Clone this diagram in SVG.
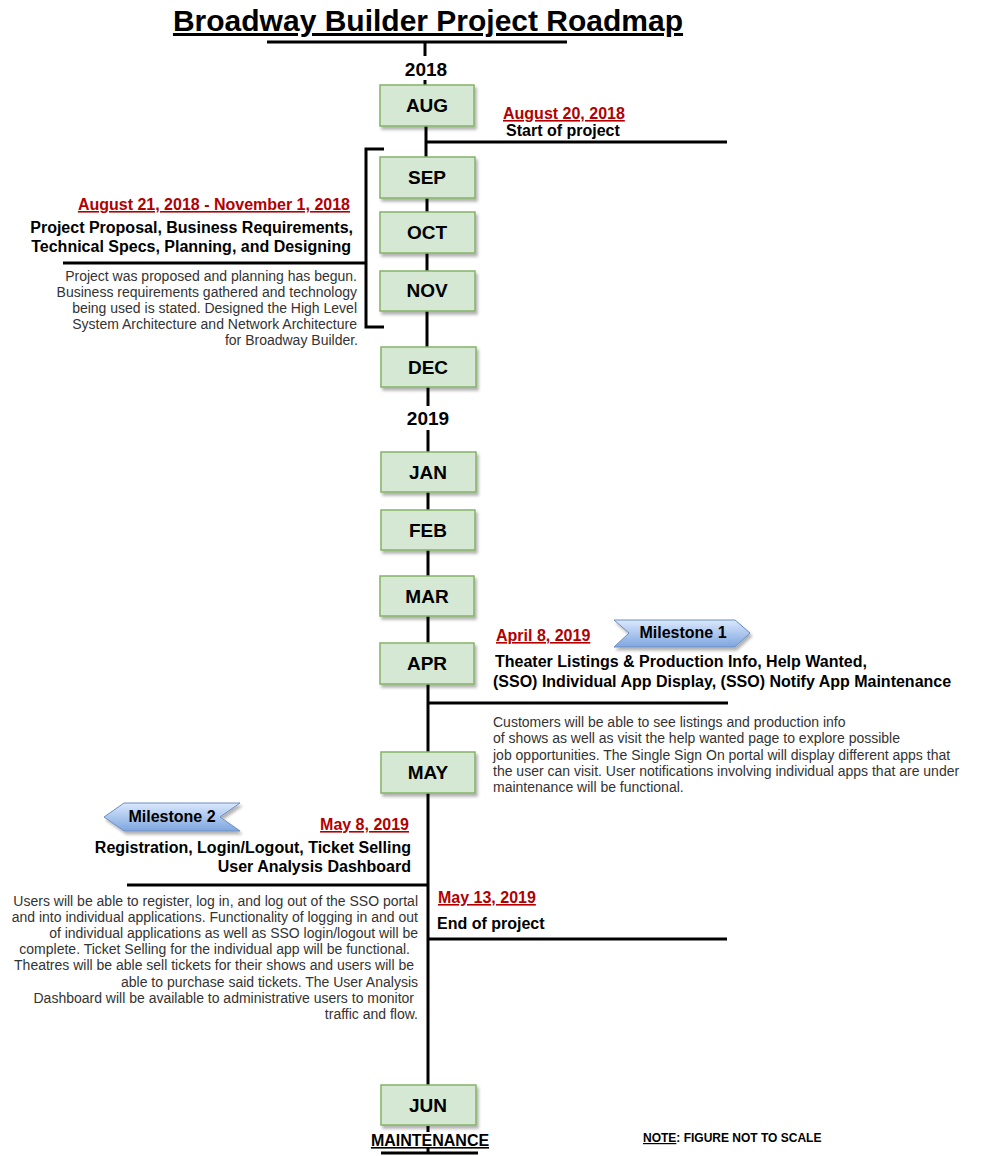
<svg xmlns="http://www.w3.org/2000/svg" width="981" height="1156" viewBox="0 0 981 1156">
<style>
text{font-family:"Liberation Sans",Arial,sans-serif;}
.b{font-weight:bold;}
.title{font-size:30px;font-weight:bold;text-decoration:underline;fill:#000;}
.yr{font-size:19px;font-weight:bold;fill:#000;text-anchor:middle;}
.mon{font-size:19px;font-weight:bold;fill:#000;text-anchor:middle;}
.box{fill:#d5e8d4;stroke:#82b366;stroke-width:1.5;filter:url(#sh);}
.date{font-size:16px;font-weight:bold;fill:#b20000;text-decoration:underline;}
.head{font-size:16px;font-weight:bold;fill:#000;}
.body{font-size:14px;fill:#333;}
.ln{stroke:#000;stroke-width:3;fill:none;}
.ms{fill:url(#bg);stroke:#6c8ebf;stroke-width:1;filter:url(#sh);}
.mst{font-size:16px;font-weight:bold;fill:#000;text-anchor:middle;}
</style>
<defs>
<filter id="sh" x="-20%" y="-20%" width="150%" height="160%">
<feDropShadow dx="2" dy="3" stdDeviation="1.5" flood-color="#000" flood-opacity="0.3"/>
</filter>
<linearGradient id="bg" x1="0" y1="0" x2="0" y2="1">
<stop offset="0" stop-color="#dae8fc"/>
<stop offset="1" stop-color="#7ea6e0"/>
</linearGradient>
</defs>
<rect width="981" height="1156" fill="#fff"/>

<g id="connectors">
<line class="ln" x1="267" y1="42" x2="567" y2="42"/>
<line class="ln" x1="425" y1="42" x2="425" y2="56"/>
<line class="ln" x1="425" y1="80" x2="425" y2="85"/>
<line class="ln" x1="426" y1="126" x2="426" y2="157"/>
<line class="ln" x1="426" y1="142" x2="727" y2="142"/>
<line class="ln" x1="427" y1="198" x2="427" y2="212"/>
<line class="ln" x1="427" y1="253" x2="427" y2="271"/>
<line class="ln" x1="427" y1="311" x2="427" y2="347"/>
<polyline class="ln" points="384,149 366,149 366,327 384,327"/>
<line class="ln" x1="63" y1="263" x2="366" y2="263"/>
<line class="ln" x1="428" y1="387" x2="428" y2="406"/>
<line class="ln" x1="428" y1="430" x2="428" y2="452"/>
<line class="ln" x1="428" y1="492" x2="428" y2="510"/>
<line class="ln" x1="428" y1="550" x2="428" y2="576"/>
<line class="ln" x1="428" y1="616" x2="428" y2="643"/>
<line class="ln" x1="428" y1="684" x2="428" y2="752"/>
<line class="ln" x1="428" y1="703" x2="728" y2="703"/>
<line class="ln" x1="428" y1="793" x2="428" y2="1085"/>
<line class="ln" x1="127" y1="885" x2="428" y2="885"/>
<line class="ln" x1="428" y1="939" x2="727" y2="939"/>
<line class="ln" x1="428" y1="1126" x2="428" y2="1132"/>
<line class="ln" x1="428" y1="1148" x2="428" y2="1153"/>
<line class="ln" x1="381" y1="1153" x2="478" y2="1153"/>
</g>

<g id="title"><text class="title" x="428" y="31" text-anchor="middle">Broadway Builder Project Roadmap</text></g>
<g id="y2018"><text class="yr" x="426" y="76">2018</text></g>
<g id="y2019"><text class="yr" x="428" y="425">2019</text></g>

<g id="aug"><rect class="box" x="380" y="85" width="94" height="41"/><text class="mon" x="427" y="112">AUG</text></g>
<g id="sep"><rect class="box" x="380" y="157" width="95" height="41"/><text class="mon" x="427" y="184">SEP</text></g>
<g id="oct"><rect class="box" x="380" y="212" width="95" height="41"/><text class="mon" x="427" y="239">OCT</text></g>
<g id="nov"><rect class="box" x="380" y="271" width="95" height="40"/><text class="mon" x="427" y="297">NOV</text></g>
<g id="dec"><rect class="box" x="381" y="347" width="95" height="40"/><text class="mon" x="428" y="374">DEC</text></g>
<g id="jan"><rect class="box" x="381" y="452" width="95" height="40"/><text class="mon" x="428" y="479">JAN</text></g>
<g id="feb"><rect class="box" x="381" y="510" width="94" height="40"/><text class="mon" x="428" y="537">FEB</text></g>
<g id="mar"><rect class="box" x="380" y="576" width="94" height="40"/><text class="mon" x="427" y="603">MAR</text></g>
<g id="apr"><rect class="box" x="380" y="643" width="94" height="41"/><text class="mon" x="427" y="670">APR</text></g>
<g id="may"><rect class="box" x="381" y="752" width="94" height="41"/><text class="mon" x="428" y="779">MAY</text></g>
<g id="jun"><rect class="box" x="381" y="1085" width="95" height="40"/><text class="mon" x="428" y="1112">JUN</text></g>

<g id="maintenance"><text x="430" y="1146" text-anchor="middle" class="b" style="font-size:16px;text-decoration:underline">MAINTENANCE</text></g>

<g id="ev-aug20">
<text class="date" x="503" y="119">August 20, 2018</text>
<text class="head" x="506" y="136">Start of project</text>
</g>

<g id="ev-design">
<text class="date" x="350" y="210" text-anchor="end">August 21, 2018 - November 1, 2018</text>
<text class="head" x="353" y="233" text-anchor="end">Project Proposal, Business Requirements,</text>
<text class="head" x="351" y="252" text-anchor="end">Technical Specs, Planning, and Designing</text>
<text class="body" x="357" y="281" text-anchor="end">Project was proposed and planning has begun.</text>
<text class="body" x="357" y="297" text-anchor="end">Business requirements gathered and technology</text>
<text class="body" x="357" y="313" text-anchor="end">being used is stated. Designed the High Level</text>
<text class="body" x="357" y="329" text-anchor="end">System Architecture and Network Architecture</text>
<text class="body" x="358" y="345" text-anchor="end">for Broadway Builder.</text>
</g>

<g id="milestone1">
<polygon class="ms" points="614,620 735,620 750,633 735,647 614,647 629,633"/>
<text class="mst" x="683" y="638">Milestone 1</text>
</g>

<g id="ev-apr8">
<text class="date" x="496" y="641">April 8, 2019</text>
<text class="head" x="495" y="667">Theater Listings &amp; Production Info, Help Wanted,</text>
<text class="head" x="493" y="687">(SSO) Individual App Display, (SSO) Notify App Maintenance</text>
<text class="body" x="493" y="727">Customers will be able to see listings and production info</text>
<text class="body" x="493" y="743">of shows as well as visit the help wanted page to explore possible</text>
<text class="body" x="493" y="760">job opportunities. The Single Sign On portal will display different apps that</text>
<text class="body" x="493" y="776">the user can visit. User notifications involving individual apps that are under</text>
<text class="body" x="493" y="792">maintenance will be functional.</text>
</g>

<g id="milestone2">
<polygon class="ms" points="124,803 240,803 220,817 240,831 124,831 104,817"/>
<text class="mst" x="172" y="822">Milestone 2</text>
</g>

<g id="ev-may8">
<text class="date" x="409" y="830" text-anchor="end">May 8, 2019</text>
<text class="head" x="411" y="853" text-anchor="end">Registration, Login/Logout, Ticket Selling</text>
<text class="head" x="411" y="872" text-anchor="end">User Analysis Dashboard</text>
<text class="body" x="418" y="906" text-anchor="end">Users will be able to register, log in, and log out of the SSO portal</text>
<text class="body" x="418" y="922" text-anchor="end">and into individual applications. Functionality of logging in and out</text>
<text class="body" x="418" y="938" text-anchor="end">of individual applications as well as SSO login/logout will be</text>
<text class="body" x="410" y="954" text-anchor="end">complete. Ticket Selling for the individual app will be functional.</text>
<text class="body" x="414" y="970" text-anchor="end">Theatres will be able sell tickets for their shows and users will be</text>
<text class="body" x="418" y="987" text-anchor="end">able to purchase said tickets. The User Analysis</text>
<text class="body" x="414" y="1003" text-anchor="end">Dashboard will be available to administrative users to monitor</text>
<text class="body" x="418" y="1019" text-anchor="end">traffic and flow.</text>
</g>

<g id="ev-may13">
<text class="date" x="438" y="903">May 13, 2019</text>
<text class="head" x="437" y="929">End of project</text>
</g>

<g id="note"><text x="643" y="1142" class="b" style="font-size:12px"><tspan style="text-decoration:underline">NOTE</tspan>: FIGURE NOT TO SCALE</text></g>
</svg>
